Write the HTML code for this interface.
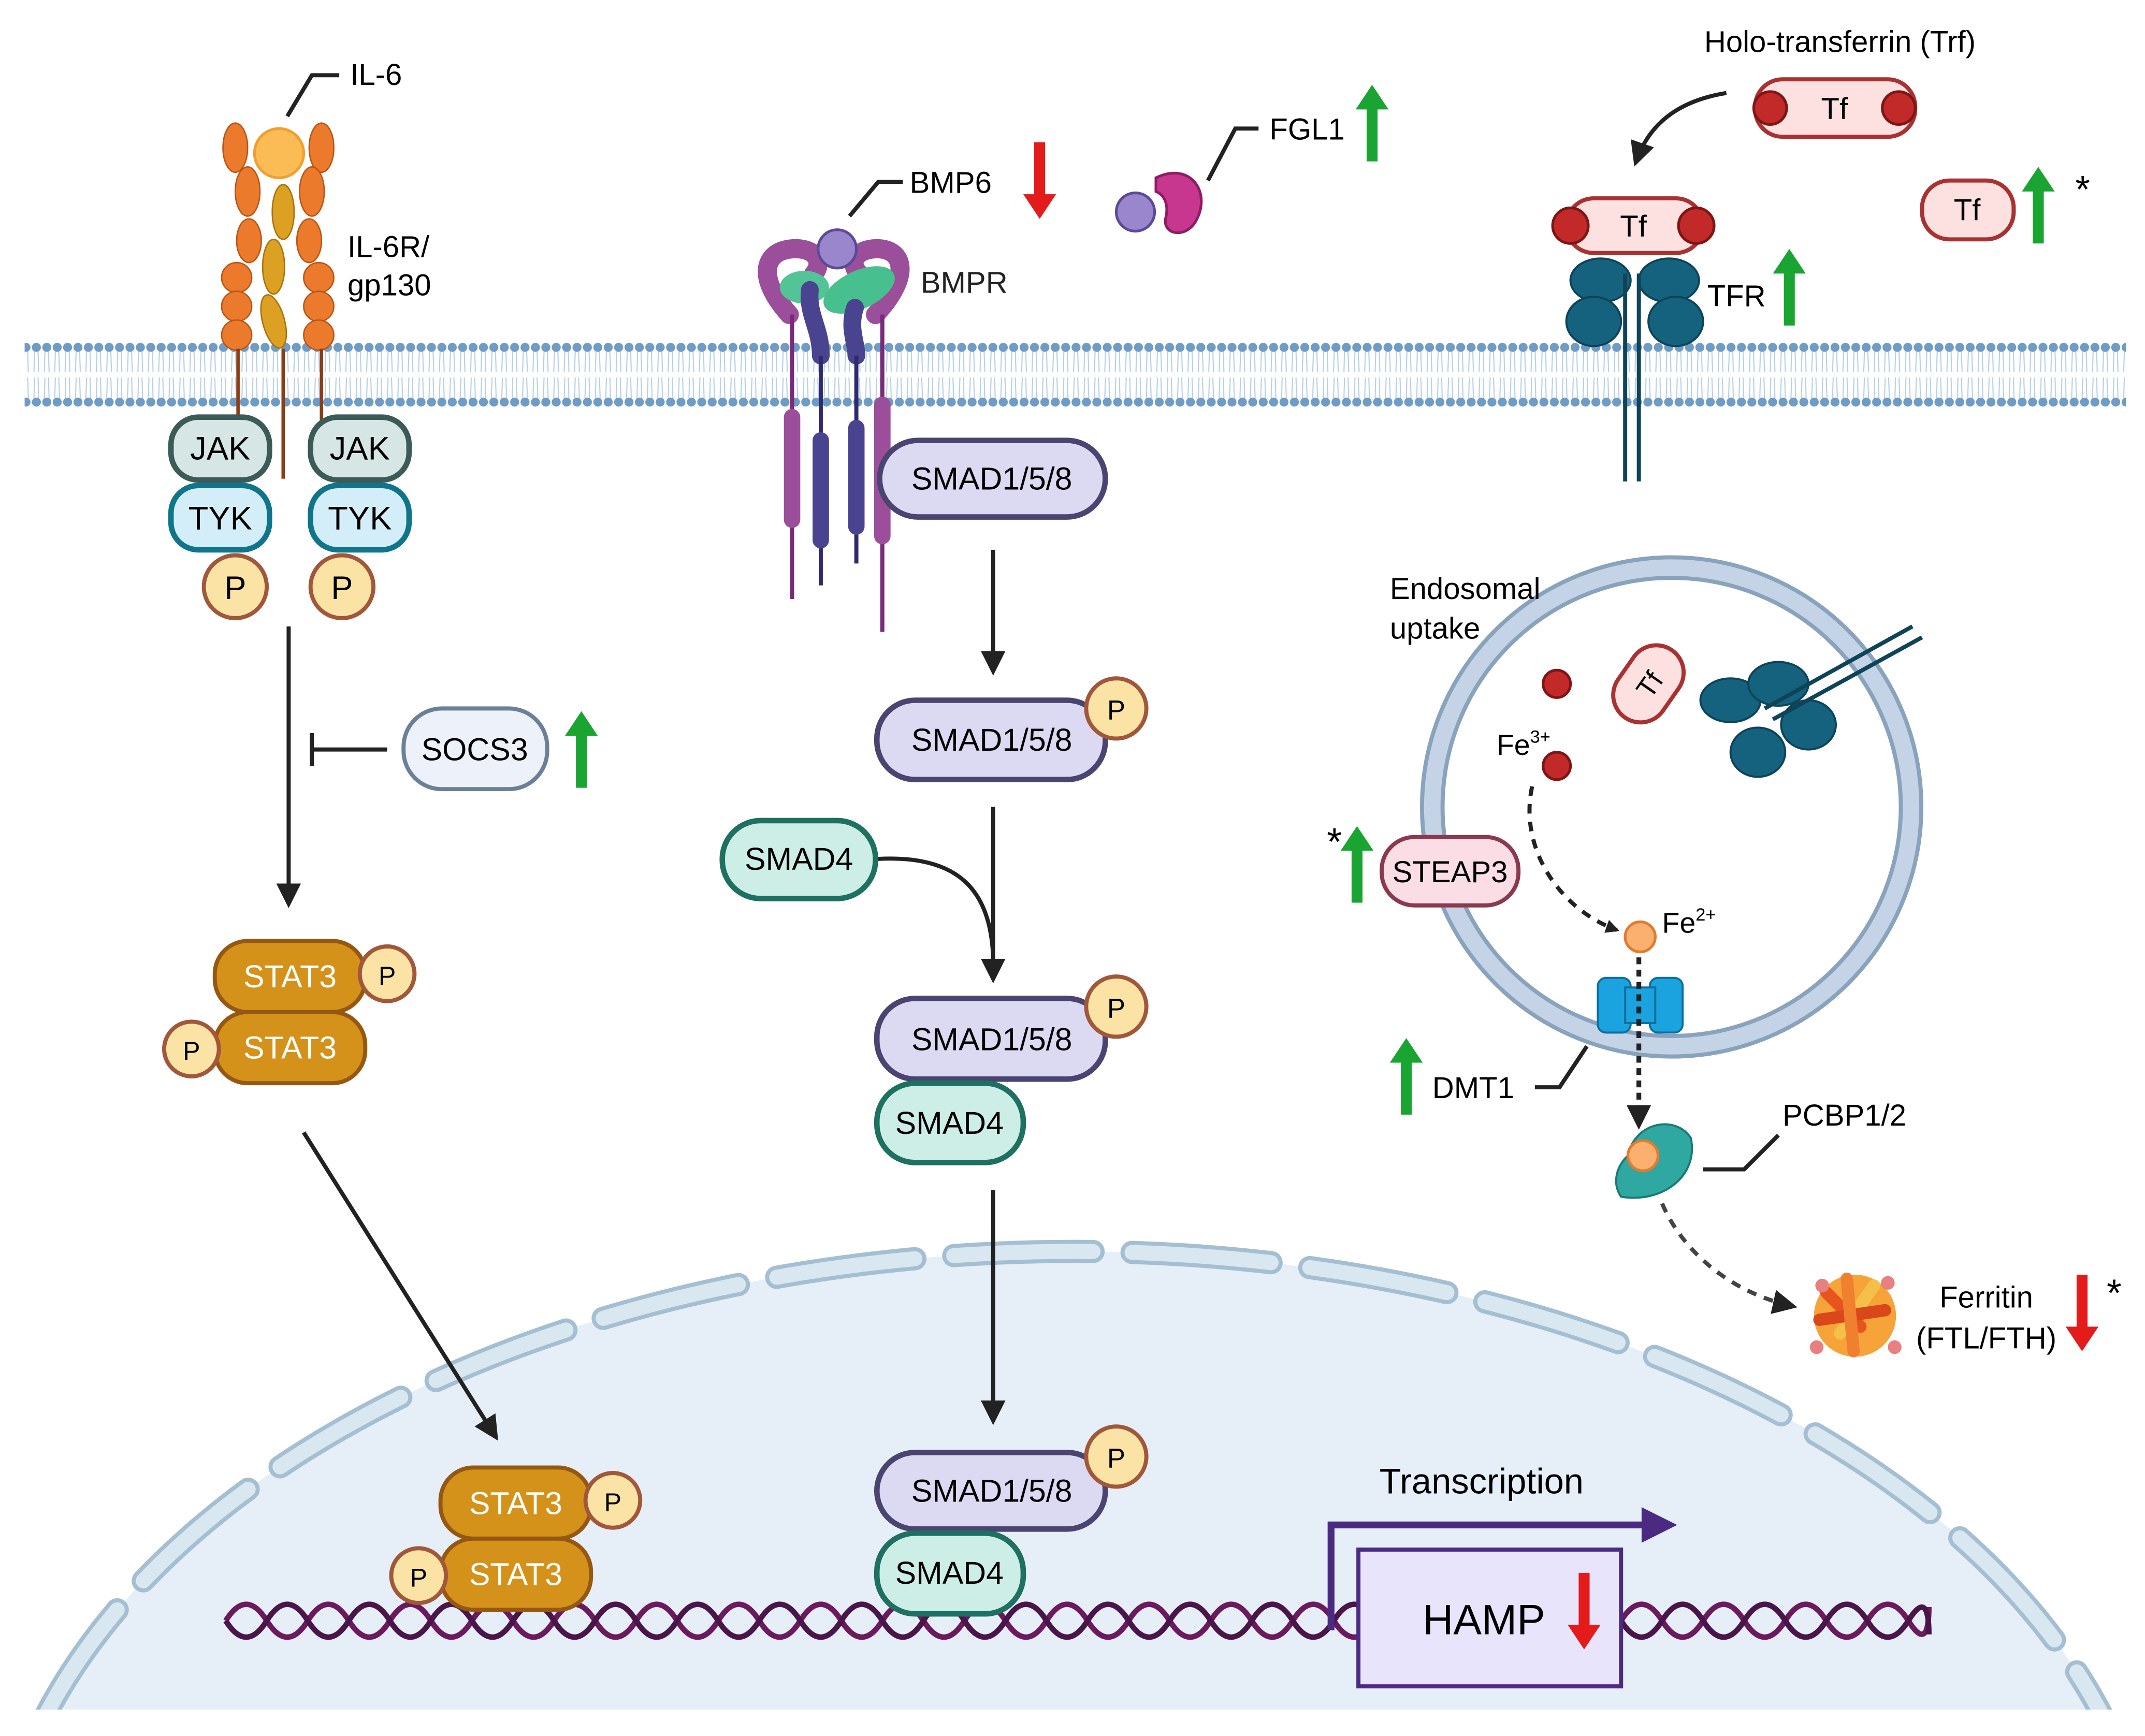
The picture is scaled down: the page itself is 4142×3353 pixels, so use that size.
<!DOCTYPE html>
<html><head><meta charset="utf-8"><style>
html,body{margin:0;padding:0;background:#fff;width:4142px;height:3353px;overflow:hidden;}
svg{display:block;}
text{font-family:"Liberation Sans",Arial,sans-serif;}
</style></head><body>
<svg width="4142" height="3353" viewBox="0 0 1568 1269.3" preserveAspectRatio="none" xmlns="http://www.w3.org/2000/svg">
<defs>
<pattern id="mem" x="0" y="0" width="7.6" height="50" patternUnits="userSpaceOnUse">
<circle cx="3.8" cy="4" r="3.3" fill="#6f9cc6"/>
<circle cx="3.8" cy="44" r="3.3" fill="#6f9cc6"/>
<path d="M2.5 7 L2 22 M5 7 L5.5 22 M2.5 26 L2 41 M5 26 L5.5 41" stroke="#b5cfe6" stroke-width="0.8"/>
</pattern>
<marker id="ah" markerWidth="10" markerHeight="10" refX="8" refY="5" orient="auto" markerUnits="userSpaceOnUse"><path d="M0,0 L10,5 L0,10 z" fill="#222"/></marker>
<marker id="ahL" markerWidth="18" markerHeight="18" refX="14" refY="9" orient="auto" markerUnits="userSpaceOnUse"><path d="M0,0 L18,9 L0,18 z" fill="#222"/></marker>
<clipPath id="cl"><rect x="0" y="0" width="1568" height="1250"/></clipPath>
<g id="gup"><path d="M-4,0 L-4,-38 L-12,-38 L0,-56 L12,-38 L4,-38 L4,0 z" fill="#1aa532"/></g>
<g id="rdn"><path d="M-4,0 L-4,38 L-12,38 L0,56 L12,38 L4,38 L4,0 z" fill="#e31b1b"/></g>
</defs>

<!-- nucleus -->
<g clip-path="url(#cl)">
<ellipse cx="785" cy="1405" rx="790" ry="490" fill="#e6eef7"/>
<ellipse cx="785" cy="1405" rx="790" ry="490" fill="none" stroke="#a5bfd2" stroke-width="17" stroke-dasharray="100 28" stroke-linecap="round" pathLength="4000" stroke-dashoffset="30"/>
<ellipse cx="785" cy="1405" rx="790" ry="490" fill="none" stroke="#d9e7f1" stroke-width="11" stroke-dasharray="100 28" stroke-linecap="round" pathLength="4000" stroke-dashoffset="30"/>
</g>

<!-- membrane -->
<rect x="18" y="249" width="1536" height="50" fill="url(#mem)"/>

<!-- IL-6 receptor -->
<g fill="#ec7a2c" stroke="#b85515" stroke-width="1">
<ellipse cx="172" cy="108" rx="9" ry="18"/><ellipse cx="181" cy="140" rx="9" ry="18"/><ellipse cx="182" cy="176" rx="9" ry="16"/>
<ellipse cx="173" cy="203" rx="11" ry="11"/><ellipse cx="173" cy="224" rx="11" ry="11"/><ellipse cx="173" cy="245" rx="11" ry="11"/>
<ellipse cx="235" cy="108" rx="9" ry="18"/><ellipse cx="228" cy="140" rx="9" ry="18"/><ellipse cx="226" cy="176" rx="9" ry="16"/>
<ellipse cx="233" cy="203" rx="11" ry="11"/><ellipse cx="233" cy="224" rx="11" ry="11"/><ellipse cx="233" cy="245" rx="11" ry="11"/>
</g>
<g fill="#dca022" stroke="#a77310" stroke-width="1">
<ellipse cx="207" cy="155" rx="8" ry="20"/><ellipse cx="200" cy="195" rx="8" ry="20"/><ellipse cx="200" cy="235" rx="8" ry="20" transform="rotate(-15 200 235)"/>
</g>
<circle cx="204" cy="112" r="18" fill="#fbbc55" stroke="#f0a030" stroke-width="2"/>
<g stroke="#8c3d16" stroke-width="2.5"><line x1="174" y1="255" x2="174" y2="308"/><line x1="207" y1="255" x2="207" y2="350"/><line x1="235" y1="255" x2="235" y2="318"/></g>
<path d="M210 85 L228 55 L248 55" fill="none" stroke="#222" stroke-width="3"/>
<text x="256" y="62" font-size="22">IL-6</text>
<text x="254" y="188" font-size="22">IL-6R/</text>
<text x="254" y="216" font-size="22">gp130</text>

<g font-size="24" text-anchor="middle">
<rect x="125" y="305" width="72" height="46" rx="20" fill="#d6e6e4" stroke="#3c5a58" stroke-width="4"/><text x="161" y="336">JAK</text>
<rect x="227" y="305" width="72" height="46" rx="20" fill="#d6e6e4" stroke="#3c5a58" stroke-width="4"/><text x="263" y="336">JAK</text>
<rect x="125" y="355" width="72" height="47" rx="20" fill="#d3eef8" stroke="#10748a" stroke-width="4"/><text x="161" y="387">TYK</text>
<rect x="227" y="355" width="72" height="47" rx="20" fill="#d3eef8" stroke="#10748a" stroke-width="4"/><text x="263" y="387">TYK</text>
<circle cx="172" cy="429" r="23" fill="#fbe3a6" stroke="#a0573a" stroke-width="3"/><text x="172" y="438">P</text>
<circle cx="250" cy="429" r="23" fill="#fbe3a6" stroke="#a0573a" stroke-width="3"/><text x="250" y="438">P</text>
</g>

<!-- IL6 arrows -->
<line x1="211" y1="458" x2="211" y2="660" stroke="#222" stroke-width="3" marker-end="url(#ahL)"/>
<line x1="283" y1="548" x2="228" y2="548" stroke="#222" stroke-width="3"/>
<line x1="228" y1="536" x2="228" y2="560" stroke="#222" stroke-width="3"/>
<rect x="295" y="518" width="105" height="59" rx="28" fill="#edf2fa" stroke="#6c7f99" stroke-width="3"/>
<text x="347" y="556" font-size="23" text-anchor="middle">SOCS3</text>
<use href="#gup" x="425" y="576"/>

<!-- STAT3 cytoplasm -->
<g font-size="23" text-anchor="middle">
<rect x="157" y="688" width="110" height="52" rx="24" fill="#d4921a" stroke="#955812" stroke-width="3"/><text x="212" y="722" fill="#fff">STAT3</text>
<rect x="157" y="740" width="110" height="52" rx="24" fill="#d4921a" stroke="#955812" stroke-width="3"/><text x="212" y="774" fill="#fff">STAT3</text>
<circle cx="283" cy="712" r="20" fill="#fbe3a6" stroke="#a0573a" stroke-width="3"/><text x="283" y="720" font-size="19">P</text>
<circle cx="140" cy="767" r="20" fill="#fbe3a6" stroke="#a0573a" stroke-width="3"/><text x="140" y="775" font-size="19">P</text>
</g>
<line x1="222" y1="828" x2="362" y2="1050" stroke="#222" stroke-width="3" marker-end="url(#ahL)"/>

<!-- DNA -->
<path d="M165 1185 q 15 -24 30 0 t 30 0 t 30 0 t 30 0 t 30 0 t 30 0 t 30 0 t 30 0 t 30 0 t 30 0 t 30 0 t 30 0 t 30 0 t 30 0 t 30 0 t 30 0 t 30 0 t 30 0 t 30 0 t 30 0 t 30 0 t 30 0 t 30 0 t 30 0 t 30 0 t 30 0 t 30 0 t 30 0 t 30 0 t 30 0 t 30 0 t 30 0 t 30 0 t 30 0 t 30 0 t 30 0 t 30 0 t 30 0 t 30 0 t 30 0 t 30 0 t 15 -10" fill="none" stroke="#6b1a5e" stroke-width="4"/>
<path d="M165 1185 q 15 24 30 0 t 30 0 t 30 0 t 30 0 t 30 0 t 30 0 t 30 0 t 30 0 t 30 0 t 30 0 t 30 0 t 30 0 t 30 0 t 30 0 t 30 0 t 30 0 t 30 0 t 30 0 t 30 0 t 30 0 t 30 0 t 30 0 t 30 0 t 30 0 t 30 0 t 30 0 t 30 0 t 30 0 t 30 0 t 30 0 t 30 0 t 30 0 t 30 0 t 30 0 t 30 0 t 30 0 t 30 0 t 30 0 t 30 0 t 30 0 t 30 0 t 15 10" fill="none" stroke="#4a1548" stroke-width="4"/>

<!-- STAT3 nucleus -->
<g font-size="23" text-anchor="middle">
<rect x="322" y="1073" width="110" height="52" rx="24" fill="#d4921a" stroke="#955812" stroke-width="3"/><text x="377" y="1107" fill="#fff">STAT3</text>
<rect x="322" y="1125" width="110" height="52" rx="24" fill="#d4921a" stroke="#955812" stroke-width="3"/><text x="377" y="1159" fill="#fff">STAT3</text>
<circle cx="448" cy="1097" r="20" fill="#fbe3a6" stroke="#a0573a" stroke-width="3"/><text x="448" y="1105" font-size="19">P</text>
<circle cx="306" cy="1152" r="20" fill="#fbe3a6" stroke="#a0573a" stroke-width="3"/><text x="306" y="1160" font-size="19">P</text>
</g>

<!-- BMPR -->
<g stroke-linecap="round">
<path d="M577 230 C550 200 560 180 585 182 C600 184 600 195 595 200" fill="none" stroke="#9b4f9b" stroke-width="14"/>
<path d="M640 230 C668 200 660 180 638 182 C622 184 622 195 628 200" fill="none" stroke="#9b4f9b" stroke-width="14"/>
<ellipse cx="588" cy="210" rx="18" ry="12" fill="#52c496"/>
<ellipse cx="628" cy="212" rx="28" ry="14" fill="#48bf8e" transform="rotate(-25 628 212)"/>
<path d="M592 212 C590 230 600 240 600 260" fill="none" stroke="#4a4490" stroke-width="13"/>
<path d="M625 225 C620 240 626 250 626 260" fill="none" stroke="#4a4490" stroke-width="13"/>
</g>
<g stroke-width="3"><line x1="579" y1="230" x2="579" y2="438" stroke="#7a2a7a"/><line x1="600" y1="260" x2="600" y2="428" stroke="#2f2a6e"/><line x1="626" y1="260" x2="626" y2="412" stroke="#2f2a6e"/><line x1="645" y1="230" x2="645" y2="462" stroke="#7a2a7a"/></g>
<g stroke-linecap="round" stroke-width="12">
<line x1="579" y1="305" x2="579" y2="380" stroke="#9b4f9b"/><line x1="600" y1="322" x2="600" y2="395" stroke="#4a4490"/><line x1="626" y1="313" x2="626" y2="385" stroke="#4a4490"/><line x1="645" y1="296" x2="645" y2="392" stroke="#9b4f9b"/>
</g>
<circle cx="612" cy="182" r="14" fill="#9a86cc" stroke="#5b4a96" stroke-width="2"/>
<path d="M621 158 L642 133 L660 133" fill="none" stroke="#222" stroke-width="3"/>
<text x="665" y="141" font-size="22">BMP6</text>
<use href="#rdn" x="760" y="104"/>
<text x="673" y="214" font-size="22" fill="#222">BMPR</text>

<!-- FGL1 -->
<circle cx="830" cy="155" r="14" fill="#9a86cc" stroke="#5b4a96" stroke-width="2"/>
<path d="M845 130 C870 118 885 140 875 160 C868 175 850 172 852 160 C855 148 850 142 845 140 z" fill="#c8378f" stroke="#8e1d63" stroke-width="2"/>
<path d="M883 132 L903 94 L920 94" fill="none" stroke="#222" stroke-width="3"/>
<text x="928" y="102" font-size="22">FGL1</text>
<use href="#gup" x="1003" y="118"/>

<!-- SMAD column -->
<g font-size="23" text-anchor="middle">
<rect x="643" y="322" width="165" height="56" rx="28" fill="#dcd9f3" stroke="#4a4470" stroke-width="4"/><text x="725" y="358">SMAD1/5/8</text>
<rect x="641" y="512" width="167" height="58" rx="28" fill="#dcd9f3" stroke="#4a4470" stroke-width="4"/><text x="725" y="549">SMAD1/5/8</text>
<circle cx="816" cy="518" r="22" fill="#fbe3a6" stroke="#a0573a" stroke-width="3"/><text x="816" y="526" font-size="20">P</text>
<rect x="528" y="600" width="112" height="57" rx="28" fill="#cdeee6" stroke="#1e7060" stroke-width="4"/><text x="584" y="636">SMAD4</text>
<rect x="641" y="730" width="167" height="59" rx="28" fill="#dcd9f3" stroke="#4a4470" stroke-width="4"/><text x="725" y="768">SMAD1/5/8</text>
<circle cx="816" cy="736" r="22" fill="#fbe3a6" stroke="#a0573a" stroke-width="3"/><text x="816" y="744" font-size="20">P</text>
<rect x="641" y="792" width="107" height="58" rx="28" fill="#cdeee6" stroke="#1e7060" stroke-width="4"/><text x="694" y="829">SMAD4</text>
<rect x="641" y="1062" width="167" height="56" rx="28" fill="#dcd9f3" stroke="#4a4470" stroke-width="4"/><text x="725" y="1098">SMAD1/5/8</text>
<circle cx="816" cy="1065" r="22" fill="#fbe3a6" stroke="#a0573a" stroke-width="3"/><text x="816" y="1073" font-size="20">P</text>
<rect x="641" y="1121" width="107" height="59" rx="28" fill="#cdeee6" stroke="#1e7060" stroke-width="4"/><text x="694" y="1158">SMAD4</text>
</g>
<g stroke="#222" stroke-width="3" fill="none">
<line x1="726" y1="402" x2="726" y2="490" marker-end="url(#ahL)"/>
<line x1="726" y1="590" x2="726" y2="715" marker-end="url(#ahL)"/>
<path d="M642 628 C700 625 724 650 726 700"/>
<line x1="726" y1="870" x2="726" y2="1038" marker-end="url(#ahL)"/>
</g>

<!-- Transcription / HAMP -->
<text x="1083" y="1092" font-size="26" text-anchor="middle">Transcription</text>
<path d="M973 1192 L973 1115 L1205 1115" fill="none" stroke="#4b2a82" stroke-width="5"/>
<path d="M1200 1102 L1226 1115 L1200 1128 z" fill="#4b2a82"/>
<rect x="993" y="1133" width="192" height="100" fill="#e8e4fb" stroke="#4b2a82" stroke-width="3"/>
<text x="1040" y="1195" font-size="31">HAMP</text>
<use href="#rdn" x="1158" y="1150"/>

<!-- Transferrin top -->
<text x="1345" y="38" font-size="22" text-anchor="middle">Holo-transferrin (Trf)</text>
<path d="M1262 68 C1225 74 1205 92 1196 118" fill="none" stroke="#222" stroke-width="3" marker-end="url(#ahL)"/>
<g font-size="22" text-anchor="middle">
<rect x="1283" y="58" width="117" height="42" rx="20" fill="#fde0e0" stroke="#a83232" stroke-width="3"/>
<circle cx="1294" cy="79" r="12" fill="#c22a2a" stroke="#801515" stroke-width="2"/><circle cx="1388" cy="79" r="12" fill="#c22a2a" stroke="#801515" stroke-width="2"/>
<text x="1341" y="87">Tf</text>
<rect x="1405" y="132" width="67" height="43" rx="20" fill="#fde0e0" stroke="#a83232" stroke-width="3"/><text x="1438" y="161">Tf</text>
</g>
<use href="#gup" x="1490" y="178"/>
<text x="1517" y="148" font-size="28">*</text>

<!-- TFR -->
<g fill="#15627e" stroke="#0d4458" stroke-width="1.5">
<ellipse cx="1170" cy="205" rx="22" ry="16"/><ellipse cx="1220" cy="205" rx="22" ry="16"/>
<ellipse cx="1165" cy="235" rx="20" ry="18"/><ellipse cx="1225" cy="235" rx="20" ry="18"/>
</g>
<g stroke="#0d4458" stroke-width="3"><line x1="1188" y1="200" x2="1188" y2="352"/><line x1="1198" y1="200" x2="1198" y2="352"/></g>
<g font-size="22" text-anchor="middle">
<rect x="1145" y="145" width="100" height="40" rx="20" fill="#fde0e0" stroke="#a83232" stroke-width="3"/>
<circle cx="1148" cy="165" r="13" fill="#c22a2a" stroke="#801515" stroke-width="2"/><circle cx="1240" cy="165" r="13" fill="#c22a2a" stroke="#801515" stroke-width="2"/>
<text x="1194" y="173">Tf</text>
</g>
<text x="1248" y="224" font-size="22">TFR</text>
<use href="#gup" x="1308" y="238"/>

<!-- Endosome -->
<circle cx="1222" cy="590" r="175" fill="#fff" stroke="#8aa3bd" stroke-width="18"/>
<circle cx="1222" cy="590" r="175" fill="none" stroke="#c4d4e6" stroke-width="12"/>
<text x="1016" y="438" font-size="22">Endosomal</text>
<text x="1016" y="467" font-size="22">uptake</text>
<circle cx="1138" cy="500" r="10" fill="#c22a2a" stroke="#801515" stroke-width="2"/>
<circle cx="1138" cy="560" r="10" fill="#c22a2a" stroke="#801515" stroke-width="2"/>
<text x="1094" y="552" font-size="21">Fe<tspan font-size="13" dy="-9">3+</tspan></text>
<g transform="rotate(-55 1205 500)"><rect x="1175" y="480" width="60" height="40" rx="20" fill="#fde0e0" stroke="#a83232" stroke-width="3"/><text x="1205" y="508" font-size="20" text-anchor="middle">Tf</text></g>
<g fill="#15627e" stroke="#0d4458" stroke-width="1.5">
<ellipse cx="1265" cy="512" rx="22" ry="16"/><ellipse cx="1300" cy="500" rx="22" ry="16"/>
<ellipse cx="1285" cy="550" rx="20" ry="18"/><ellipse cx="1322" cy="530" rx="20" ry="18"/>
</g>
<g stroke="#0d4458" stroke-width="3"><line x1="1290" y1="518" x2="1398" y2="458"/><line x1="1296" y1="526" x2="1405" y2="466"/></g>
<path d="M1120 575 C1110 620 1140 665 1182 680" fill="none" stroke="#222" stroke-width="3" stroke-dasharray="7 6" marker-end="url(#ah)"/>
<circle cx="1199" cy="685" r="11" fill="#fbb070" stroke="#e07b30" stroke-width="2"/>
<text x="1215" y="682" font-size="21">Fe<tspan font-size="13" dy="-9">2+</tspan></text>
<g fill="#1ba3e0" stroke="#0e6f9c" stroke-width="1.5">
<rect x="1168" y="715" width="24" height="40" rx="6"/><rect x="1206" y="715" width="24" height="40" rx="6"/><rect x="1188" y="722" width="22" height="26"/>
</g>
<line x1="1198" y1="700" x2="1198" y2="822" stroke="#222" stroke-width="3.5" stroke-dasharray="5 4" marker-end="url(#ahL)"/>
<rect x="1010" y="612" width="100" height="50" rx="24" fill="#fbdde6" stroke="#8a3a50" stroke-width="3"/>
<text x="1060" y="645" font-size="22" text-anchor="middle">STEAP3</text>
<use href="#gup" x="992" y="660"/>
<text x="970" y="625" font-size="28">*</text>
<use href="#gup" x="1028" y="815"/>
<text x="1047" y="803" font-size="22">DMT1</text>
<path d="M1122 795 L1140 795 L1160 765" fill="none" stroke="#222" stroke-width="3"/>

<!-- PCBP -->
<path d="M1190 845 C1195 820 1225 815 1236 832 C1242 860 1215 880 1185 875 C1178 865 1182 852 1190 845 z" fill="#2ea8a0" stroke="#1b7a74" stroke-width="1.5"/>
<circle cx="1201" cy="845" r="11" fill="#fbb070" stroke="#e07b30" stroke-width="2"/>
<path d="M1245 855 L1275 855 L1300 830" fill="none" stroke="#222" stroke-width="3"/>
<text x="1303" y="823" font-size="22">PCBP1/2</text>
<path d="M1215 880 C1230 915 1265 945 1310 955" fill="none" stroke="#444" stroke-width="3" stroke-dasharray="7 6" marker-end="url(#ahL)"/>

<!-- Ferritin -->
<g>
<circle cx="1356" cy="962" r="30" fill="#f6a43a"/>
<g stroke-width="9" stroke-linecap="round">
<line x1="1335" y1="945" x2="1360" y2="970" stroke="#e8541e"/><line x1="1370" y1="940" x2="1345" y2="975" stroke="#f4c04a"/>
<line x1="1330" y1="965" x2="1378" y2="958" stroke="#d9471a"/><line x1="1350" y1="935" x2="1355" y2="988" stroke="#f08030"/>
</g>
<circle cx="1332" cy="940" r="5" fill="#e88080"/><circle cx="1380" cy="938" r="5" fill="#e88080"/><circle cx="1385" cy="985" r="5" fill="#e88080"/><circle cx="1328" cy="985" r="5" fill="#e88080"/>
</g>
<text x="1452" y="956" font-size="22" text-anchor="middle">Ferritin</text>
<text x="1452" y="986" font-size="22" text-anchor="middle">(FTL/FTH)</text>
<use href="#rdn" x="1522" y="932"/>
<text x="1540" y="955" font-size="28">*</text>
</svg>
</body></html>
